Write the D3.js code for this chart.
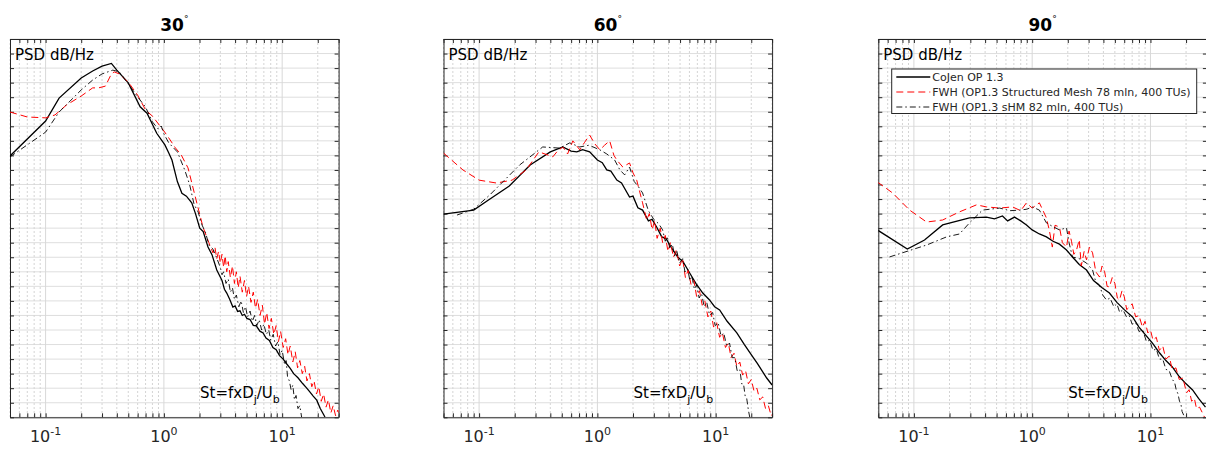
<!DOCTYPE html>
<html>
<head>
<meta charset="utf-8">
<script src="https://cdn.jsdelivr.net/npm/d3@7"></script>
<style>
  body { margin: 0; background: #fff; }
  text, tspan { font-family: "DejaVu Sans", sans-serif; fill: #262626; }
</style>
</head>
<body>
<svg id="chart" width="1206" height="449"></svg>
<script>
// angles and tick labels
var angles = ["30", "60", "90"];
var xMajor = [0.1, 1, 10];
var xMajorExp = ["-1", "0", "1"];
var legendNames = ["CoJen OP 1.3",
                   "FWH (OP1.3 Structured Mesh 78 mln, 400 TUs)",
                   "FWH (OP1.3 sHM 82 mln, 400 TUs)"];

// [St, PSD dB] (y is relative, grid every 5 dB)
var cojen30 = [[0.05,89.8],[0.1,101.8],[0.13,109.7],[0.2,116.6],[0.25,119.0],[0.3,120.7],[0.36,121.6],[0.4,119.3],[0.5,114.9],[0.63,106.7],[0.72,104.5],[0.87,97.6],[1.02,93.6],[1.1,90.8],[1.17,88.4],[1.3,81.0],[1.42,77.0],[1.55,76.0],[1.72,73.7],[1.85,70.0],[2.01,65.0],[2.15,63.8],[2.36,58.5],[2.55,55.9],[2.8,50.6],[3.1,47.0],[3.25,44.0],[3.4,42.7],[3.6,40.6],[3.83,37.9],[4.0,38.3],[4.2,36.4],[4.4,36.6],[4.6,35.0],[4.8,35.4],[5.03,34.0],[5.35,33.6],[5.7,31.6],[6.05,31.4],[6.48,29.6],[6.9,29.0],[7.3,27.2],[7.8,26.4],[8.35,24.0],[8.9,23.2],[9.5,21.2],[10.2,20.0],[10.9,18.4],[11.7,16.8],[12.5,15.0],[13.6,13.6],[14.9,11.6],[16,10.2],[17,8.9],[18.3,7.3],[19.6,5.9],[21,3.0],[23,0.1]];
var fwh30 = [[0.05,104.9],[0.07,103.2],[0.1,102.9],[0.12,103.9],[0.15,107.3],[0.2,110.4],[0.25,113.2],[0.28,113.2],[0.32,113.8],[0.36,118.0],[0.38,118.7],[0.42,118.0],[0.5,115.2],[0.6,110.7],[0.7,105.6],[0.8,103.5],[0.9,100.8],[1.0,98.4],[1.1,96.0],[1.25,92.6],[1.4,90.2],[1.6,85.7],[1.9,73.6],[2.14,65.4],[2.4,60.0],[2.6,56.5],[2.7,58.5],[2.8,54.5],[2.9,57.0],[3.0,53.0],[3.1,56.0],[3.2,51.5],[3.3,55.5],[3.4,50.0],[3.5,53.5],[3.65,48.0],[3.8,52.0],[3.95,46.0],[4.1,50.0],[4.25,44.5],[4.4,48.5],[4.6,43.0],[4.8,47.0],[5.0,41.5],[5.2,45.0],[5.45,39.5],[5.7,43.0],[5.95,37.5],[6.2,40.5],[6.5,35.0],[6.8,38.5],[7.1,32.0],[7.4,36.0],[7.75,30.5],[8.1,34.0],[8.5,28.5],[8.9,31.5],[9.3,26.0],[9.7,29.5],[10.2,24.0],[10.7,27.0],[11.2,21.5],[11.7,24.5],[12.3,19.0],[12.9,22.5],[13.5,17.0],[14.1,19.5],[14.8,15.0],[15.5,17.5],[16.2,12.5],[17,15.0],[17.8,10.5],[18.6,12.5],[19.5,8.0],[20.4,10.5],[21.4,5.5],[22.4,8.0],[23.5,3.5],[24.6,6.0],[25.8,1.5],[27,4.0],[28.3,0.5],[29.6,2.5],[30,1.5]];
var shm30 = [[0.05,89.5],[0.1,98.0],[0.13,104.9],[0.2,112.5],[0.25,115.9],[0.3,118.0],[0.37,119.3],[0.42,118.7],[0.5,114.6],[0.6,110.1],[0.7,106.6],[0.8,101.5],[0.9,99.0],[0.95,100.1],[1.0,97.4],[1.1,94.3],[1.3,91.2],[1.5,85.0],[1.65,80.0],[1.8,73.2],[1.95,70.5],[2.1,66.1],[2.25,63.5],[2.4,59.2],[2.6,57.8],[2.8,54.7],[3.0,51.5],[3.1,49.0],[3.2,50.0],[3.35,46.0],[3.5,47.5],[3.65,43.0],[3.8,44.5],[3.95,40.5],[4.1,42.0],[4.3,38.0],[4.5,40.0],[4.7,36.0],[4.9,38.0],[5.1,34.5],[5.35,36.5],[5.6,33.0],[5.85,35.0],[6.1,31.5],[6.4,33.5],[6.7,30.0],[7.0,32.0],[7.35,28.5],[7.7,30.0],[8.0,26.5],[8.4,28.5],[8.8,24.5],[9.2,26.0],[9.6,21.5],[10.0,23.0],[10.5,18.0],[10.8,19.5],[11.1,14.0],[11.5,12.5],[11.9,9.5],[12.3,11.0],[12.7,6.0],[13.1,7.5],[13.6,3.0],[14.1,4.0],[14.6,0.1]];

var cojen60 = [[0.05,69.8],[0.09,71.2],[0.12,74.7],[0.18,79.5],[0.27,86.7],[0.4,91.2],[0.51,92.9],[0.6,91.5],[0.67,91.2],[0.75,92.0],[0.86,91.2],[1.0,88.4],[1.1,87.5],[1.2,85.0],[1.3,84.6],[1.46,81.5],[1.6,80.5],[1.87,75.7],[2.0,76.0],[2.2,72.0],[2.41,71.2],[2.7,67.5],[2.9,68.0],[3.17,65.4],[3.5,62.0],[3.8,61.5],[4.34,57.5],[4.8,55.0],[5.3,53.5],[6.03,49.6],[6.8,46.0],[7.78,42.7],[8.8,40.5],[9.8,38.0],[10.8,36.9],[12.5,33.0],[15.1,29.0],[17.5,25.0],[20.6,20.8],[22.5,18.5],[25,15.6],[27,13.5],[30,11.1]];
var fwh60 = [[0.05,90.8],[0.073,85.0],[0.1,81.5],[0.14,80.5],[0.19,81.5],[0.25,85.0],[0.32,91.2],[0.36,90.5],[0.42,89.5],[0.46,91.5],[0.51,92.9],[0.56,90.5],[0.62,95.0],[0.71,91.9],[0.78,94.5],[0.86,97.0],[0.95,94.0],[1.05,91.9],[1.15,93.5],[1.27,95.0],[1.38,90.0],[1.46,88.4],[1.64,86.0],[1.87,87.4],[2.0,84.0],[2.15,81.5],[2.41,73.7],[2.61,67.8],[2.75,70.0],[2.9,64.5],[3.05,67.5],[3.2,61.5],[3.4,65.0],[3.56,60.0],[3.75,62.5],[3.95,57.0],[4.15,60.0],[4.4,55.0],[4.65,57.5],[4.96,52.0],[5.25,54.5],[5.55,48.0],[5.85,50.5],[6.2,45.5],[6.55,47.0],[6.9,41.5],[7.3,43.5],[7.7,38.5],[8.1,40.0],[8.6,34.5],[9.1,36.5],[9.6,31.0],[10.2,32.5],[10.8,27.5],[11.4,29.0],[12.1,24.0],[12.8,25.5],[13.5,20.5],[14.3,22.0],[15.1,17.5],[16,19.0],[16.9,14.5],[17.9,16.0],[18.9,11.5],[20,13.0],[21.1,9.0],[22.3,10.0],[23.6,6.0],[25,7.0],[26.4,3.0],[27.9,4.0],[29.5,0.5],[30,1.0]];
var shm60 = [[0.065,69.5],[0.09,71.5],[0.123,76.4],[0.22,86.7],[0.345,92.9],[0.48,92.5],[0.584,94.3],[0.709,92.9],[0.85,93.5],[1.05,91.9],[1.2,90.5],[1.4,88.4],[1.55,85.0],[1.7,83.3],[1.87,86.0],[2.05,81.0],[2.2,79.5],[2.41,77.1],[2.7,71.0],[3.0,68.0],[3.3,66.5],[3.56,64.4],[3.75,60.5],[3.9,62.0],[4.1,58.0],[4.3,59.5],[4.5,55.5],[4.7,57.0],[4.95,53.0],[5.26,54.5],[5.5,50.0],[5.8,51.0],[6.05,47.0],[6.3,48.5],[6.6,44.0],[6.9,45.5],[7.25,41.0],[7.6,42.5],[8.0,38.0],[8.4,39.5],[8.9,35.0],[9.43,36.0],[9.9,31.5],[10.5,32.5],[11.1,28.0],[11.7,29.0],[12.4,24.5],[13.1,25.5],[13.8,20.5],[14.5,20.5],[15.2,16.0],[16,16.5],[16.6,11.5],[17.2,11.5],[17.8,7.0],[18.3,6.5],[18.9,2.5],[19.4,0.1]];

var cojen90 = [[0.049,64.4],[0.088,57.8],[0.123,60.9],[0.175,66.1],[0.295,68.5],[0.411,68.8],[0.48,68.2],[0.561,69.2],[0.62,67.5],[0.709,68.8],[0.8,67.5],[0.895,66.1],[1.0,64.4],[1.15,63.0],[1.32,62.0],[1.5,60.5],[1.7,59.5],[1.95,57.5],[2.2,55.0],[2.5,52.5],[2.88,50.6],[3.3,47.0],[3.9,44.5],[4.5,42.7],[5.2,39.5],[6.0,37.0],[7.05,34.5],[8.0,31.0],[9.0,28.5],[10.4,25.5],[12.0,22.0],[13.5,19.5],[15.3,17.3],[17.5,14.0],[20.0,11.5],[22.7,9.4],[25.5,6.5],[29.2,3.5]];
var fwh90 = [[0.049,80.9],[0.066,77.1],[0.092,71.2],[0.128,67.1],[0.175,67.8],[0.243,70.6],[0.338,73.0],[0.411,72.3],[0.53,71.9],[0.682,72.3],[0.8,71.0],[0.895,73.7],[1.0,71.9],[1.15,73.7],[1.32,68.5],[1.4,64.0],[1.48,58.5],[1.56,66.0],[1.7,65.4],[1.8,60.0],[1.95,58.5],[2.05,64.0],[2.15,60.5],[2.25,56.0],[2.37,57.5],[2.5,61.0],[2.6,52.0],[2.75,57.0],[2.88,54.1],[3.05,58.5],[3.24,56.5],[3.45,50.0],[3.71,48.2],[3.9,52.0],[4.1,50.0],[4.3,45.0],[4.5,44.8],[4.75,48.0],[5.0,46.0],[5.25,41.0],[5.47,40.3],[5.75,43.5],[6.0,41.5],[6.3,37.0],[6.64,37.9],[7.0,39.0],[7.5,34.5],[8.0,35.0],[8.55,31.0],[9.0,33.0],[9.5,29.0],[10.0,30.0],[10.5,26.5],[11.2,27.5],[11.9,23.0],[12.7,24.5],[13.5,20.0],[14.4,21.0],[15.3,16.3],[16.4,17.0],[17.5,13.0],[18.8,13.5],[20.2,8.4],[21.2,9.5],[22.3,5.5],[23.5,6.5],[24.5,3.0],[26,3.5],[28.6,0.1]];
var shm90 = [[0.0622,55.1],[0.128,59.2],[0.189,62.0],[0.243,63.0],[0.295,66.8],[0.38,71.2],[0.53,71.9],[0.65,71.0],[0.78,71.2],[0.9,71.5],[1.0,72.3],[1.15,71.2],[1.32,66.8],[1.5,65.5],[1.7,64.4],[1.95,65.1],[2.05,60.0],[2.19,55.1],[2.5,54.5],[2.88,53.0],[3.24,50.6],[3.45,46.5],[3.7,45.5],[3.95,42.0],[4.25,40.3],[4.55,41.0],[4.9,38.0],[5.2,39.0],[5.5,36.0],[5.85,37.0],[6.27,34.5],[6.6,35.0],[7.0,32.0],[7.5,32.5],[8.0,29.5],[8.6,30.0],[9.25,26.0],[9.85,26.5],[10.5,23.0],[11.2,23.5],[11.9,20.0],[12.7,20.0],[13.5,16.5],[14.4,16.0],[15.3,13.0],[16.0,12.0],[16.5,9.5],[17.1,8.0],[17.6,5.5],[18.1,4.5],[18.5,2.0],[19.4,0.1]];

var panels = [
  {title: angles[0], lines: [cojen30, fwh30, shm30]},
  {title: angles[1], lines: [cojen60, fwh60, shm60]},
  {title: angles[2], lines: [cojen90, fwh90, shm90]}
];
var styles = [
  {color: "#000", width: 1.3, dash: null},
  {color: "#ff0000", width: 1, dash: "7,4"},
  {color: "#000", width: 0.9, dash: "6,3,1.5,3"}
];

var svg = d3.select("#chart");
var panelLeft = [10, 443.5, 878.3],
    plotW = 328.6,
    plotTop = 39,
    plotBottom = 417.3;

var y = d3.scaleLinear().domain([0, 130]).range([plotBottom, plotTop]);
var yTicks = d3.range(0, 131, 5);

var minorTicks = [];
[0.01, 0.1, 1, 10].forEach(function(dec) {
  for (var k = 2; k <= 9; k++) {
    var v = +(dec * k).toPrecision(3);
    if (v >= 0.05 && v <= 30) minorTicks.push(v);
  }
});
var allTicks = minorTicks.concat(xMajor);

panels.forEach(function(p, i) {
  var x0 = panelLeft[i];
  var x = d3.scaleLog().domain([0.05, 30]).range([x0, x0 + plotW]);
  var g = svg.append("g");

  g.append("clipPath").attr("id", "clip" + i)
    .append("rect")
      .attr("x", x0).attr("y", plotTop)
      .attr("width", plotW).attr("height", plotBottom - plotTop);

  // grid
  g.selectAll(".hgrid").data(yTicks).enter().append("line")
      .attr("x1", x0).attr("x2", x0 + plotW)
      .attr("y1", function(d) { return y(d); })
      .attr("y2", function(d) { return y(d); })
      .attr("stroke", "#dedede").attr("stroke-width", 1);
  g.selectAll(".vminor").data(minorTicks).enter().append("line")
      .attr("x1", function(d) { return x(d); })
      .attr("x2", function(d) { return x(d); })
      .attr("y1", plotTop).attr("y2", plotBottom)
      .attr("stroke", "#d4d4d4").attr("stroke-width", 1)
      .attr("stroke-dasharray", "2,2");
  g.selectAll(".vmajor").data(xMajor).enter().append("line")
      .attr("x1", function(d) { return x(d); })
      .attr("x2", function(d) { return x(d); })
      .attr("y1", plotTop).attr("y2", plotBottom)
      .attr("stroke", "#d8d8d8").attr("stroke-width", 1);

  // box with inward ticks
  var axes = [
    {ax: d3.axisBottom(x).tickValues(allTicks), t: "translate(0," + plotBottom + ")"},
    {ax: d3.axisTop(x).tickValues(allTicks), t: "translate(0," + plotTop + ")"},
    {ax: d3.axisLeft(y).tickValues(yTicks), t: "translate(" + x0 + ",0)"},
    {ax: d3.axisRight(y).tickValues(yTicks), t: "translate(" + (x0 + plotW) + ",0)"}
  ];
  axes.forEach(function(a) {
    var ag = g.append("g")
        .attr("transform", a.t)
        .call(a.ax.tickSizeInner(-4).tickSizeOuter(0).tickFormat(""));
    ag.select(".domain").attr("stroke", "#262626").attr("stroke-width", 1);
    ag.selectAll(".tick line").attr("stroke", "#262626").attr("stroke-width", 1);
  });

  // series
  var line = d3.line()
      .x(function(d) { return x(d[0]); })
      .y(function(d) { return y(d[1]); });
  g.append("g").attr("clip-path", "url(#clip" + i + ")")
    .selectAll("path").data(p.lines).enter().append("path")
      .attr("d", line)
      .attr("fill", "none")
      .attr("stroke", function(d, k) { return styles[k].color; })
      .attr("stroke-width", function(d, k) { return styles[k].width; })
      .attr("stroke-dasharray", function(d, k) { return styles[k].dash; });

  // tick labels 10^n
  var lab = g.selectAll(".xlab").data(xMajor).enter().append("text")
      .attr("x", function(d) { return x(d); })
      .attr("y", 442)
      .attr("text-anchor", "middle")
      .style("font-size", "16px");
  lab.append("tspan").text("10");
  lab.append("tspan")
      .attr("dy", -7)
      .style("font-size", "11px")
      .text(function(d, k) { return xMajorExp[k]; });

  // title
  var tt = g.append("text")
      .attr("x", x0 + plotW / 2)
      .attr("y", 31)
      .attr("text-anchor", "middle")
      .style("font-size", "17px")
      .style("font-weight", "bold")
      .style("fill", "#000");
  tt.append("tspan").style("fill", "#000").text(p.title);
  tt.append("tspan").attr("dy", -9).style("font-size", "9px").style("font-weight", "normal").style("fill", "#000").text("°");

  g.append("text")
      .attr("x", x0 + 5)
      .attr("y", 59.5)
      .style("font-size", "15px")
      .style("fill", "#000")
      .text("PSD dB/Hz");

  var st = g.append("text")
      .attr("x", x0 + 190)
      .attr("y", 398)
      .style("font-size", "15px")
      .style("fill", "#000");
  st.append("tspan").style("fill", "#000").text("St=fxD");
  st.append("tspan").attr("dy", 5).style("font-size", "11px").style("fill", "#000").text("j");
  st.append("tspan").attr("dy", -5).style("fill", "#000").text("/U");
  st.append("tspan").attr("dy", 5).style("font-size", "11px").style("fill", "#000").text("b");

  // legend in the last panel
  if (i === 2) {
    var lg = g.append("g");
    lg.append("rect")
        .attr("x", x0 + 13.4).attr("y", 69)
        .attr("width", 305).attr("height", 44.5)
        .attr("fill", "#fff").attr("stroke", "#262626").attr("stroke-width", 1);
    var rows = lg.selectAll(".row").data(legendNames).enter().append("g")
        .attr("transform", function(d, k) { return "translate(0," + (77 + k * 15) + ")"; });
    rows.append("line")
        .attr("x1", x0 + 18).attr("x2", x0 + 52)
        .attr("stroke", function(d, k) { return styles[k].color; })
        .attr("stroke-width", function(d, k) { return styles[k].width; })
        .attr("stroke-dasharray", function(d, k) { return styles[k].dash; });
    rows.append("text")
        .attr("x", x0 + 54)
        .attr("dy", "0.35em")
        .style("font-size", "11px")
        .text(function(d) { return d; });
  }
});
</script>
</body>
</html>
